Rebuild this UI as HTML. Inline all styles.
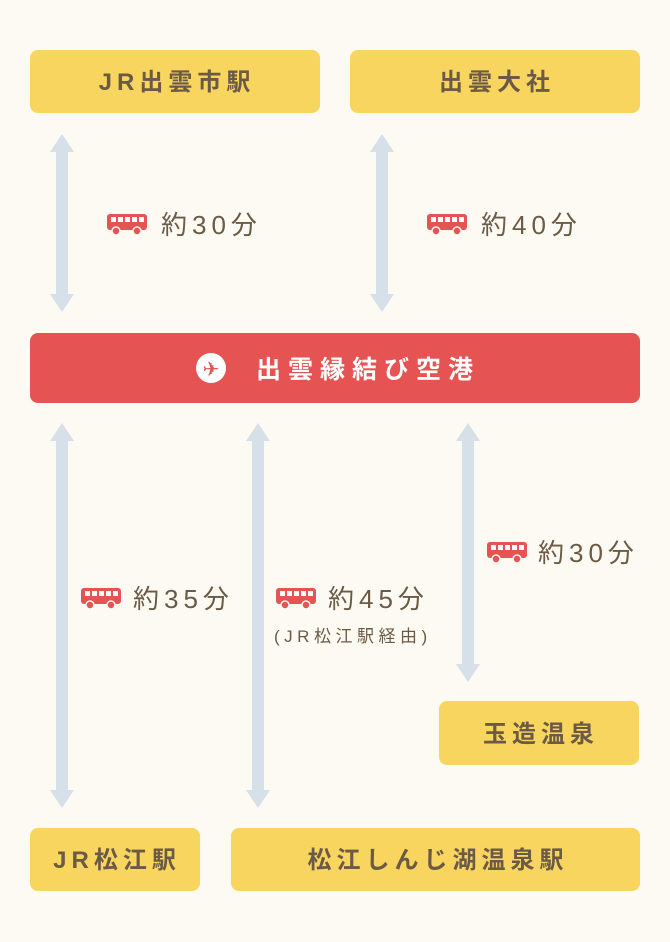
<!DOCTYPE html>
<html><head><meta charset="utf-8"><style>
body{margin:0;background:#fcfaf2;}
svg{display:block}
text{font-family:"Liberation Sans","Noto Sans CJK JP",sans-serif;}
</style></head><body>
<svg width="670" height="942" viewBox="0 0 670 942" xmlns="http://www.w3.org/2000/svg">
<defs>
<g id="bus">
<rect x="0" y="0" width="40" height="16" rx="3" fill="#e55353"/>
<rect x="4" y="3" width="5" height="5" fill="#fff"/>
<rect x="11" y="3" width="5" height="5" fill="#fff"/>
<rect x="18" y="3" width="5" height="5" fill="#fff"/>
<rect x="25" y="3" width="5" height="5" fill="#fff"/>
<rect x="32" y="3" width="5" height="5" fill="#fff"/>
<circle cx="9" cy="17" r="4" fill="#e55353" stroke="#fcfaf2" stroke-width="1.5"/>
<circle cx="30" cy="17" r="4" fill="#e55353" stroke="#fcfaf2" stroke-width="1.5"/>
</g>
</defs>
<rect width="670" height="942" fill="#fcfaf2"/>
<g fill="#f8d55f">
<rect x="30" y="50" width="290" height="63" rx="8"/>
<rect x="350" y="50" width="290" height="63" rx="8"/>
<rect x="439" y="701" width="200" height="64" rx="8"/>
<rect x="30" y="828" width="170" height="63" rx="8"/>
<rect x="231" y="828" width="409" height="63" rx="8"/>
</g>
<rect x="30" y="333" width="610" height="70" rx="8" fill="#e55353"/>
<g fill="#d6e0e8">
<path d="M62 134 L74 152 L68 152 L68 294 L74 294 L62 312 L50 294 L56 294 L56 152 L50 152 Z"/>
<path d="M382 134 L394 152 L388 152 L388 294 L394 294 L382 312 L370 294 L376 294 L376 152 L370 152 Z"/>
<path d="M62 423 L74 441 L68 441 L68 790 L74 790 L62 808 L50 790 L56 790 L56 441 L50 441 Z"/>
<path d="M258 423 L270 441 L264 441 L264 790 L270 790 L258 808 L246 790 L252 790 L252 441 L246 441 Z"/>
<path d="M468 423 L480 441 L474 441 L474 664 L480 664 L468 682 L456 664 L462 664 L462 441 L456 441 Z"/>
</g>
<g fill="#6b5a45" font-size="24" font-weight="bold" letter-spacing="5">
<text x="177" y="90" text-anchor="middle">JR出雲市駅</text>
<text x="497" y="90" text-anchor="middle">出雲大社</text>
<text x="541" y="742" text-anchor="middle">玉造温泉</text>
<text x="117" y="868" text-anchor="middle">JR松江駅</text>
<text x="438" y="868" text-anchor="middle">松江しんじ湖温泉駅</text>
</g>
<circle cx="211" cy="368" r="15" fill="#fff"/>
<text x="211" y="376" font-size="20" fill="#e55353" text-anchor="middle" style="font-family:'DejaVu Sans',sans-serif">✈</text>
<text x="256" y="378" fill="#fff" font-size="25" font-weight="bold" letter-spacing="7">出雲縁結び空港</text>
<g fill="#6b5a45" font-size="26" letter-spacing="5">
<text x="161" y="234">約30分</text>
<text x="481" y="234">約40分</text>
<text x="133" y="608">約35分</text>
<text x="328" y="608">約45分</text>
<text x="538" y="562">約30分</text>
</g>
<text x="274" y="642" fill="#6b5a45" font-size="17" letter-spacing="4.5">(JR松江駅経由)</text>
<use href="#bus" x="107" y="214"/>
<use href="#bus" x="427" y="214"/>
<use href="#bus" x="81" y="588"/>
<use href="#bus" x="276" y="588"/>
<use href="#bus" x="487" y="542"/>
</svg>
</body></html>
